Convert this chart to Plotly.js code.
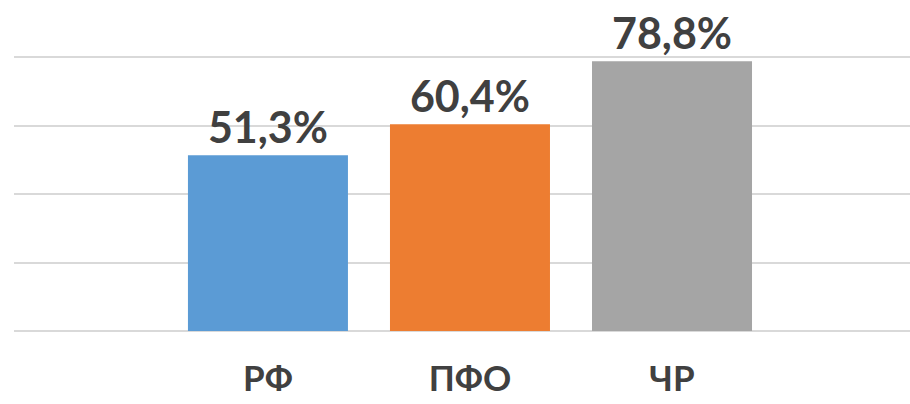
<!DOCTYPE html>
<html>
<head>
<meta charset="utf-8">
<script src="https://cdn.plot.ly/plotly-3.0.1.min.js"></script>
<style>html,body{margin:0;padding:0;background:#fff;}#chart{width:910px;height:404px;}</style>
</head>
<body>
<div id="chart"></div>
<script>
const categories = ["РФ", "ПФО", "ЧР"];
const values = [51.3, 60.4, 78.8];
const labels = ["51,3%", "60,4%", "78,8%"];
const colors = ["#5B9BD5", "#ED7D31", "#A5A5A5"];

const trace = {
  type: "bar",
  x: categories,
  y: values,
  text: labels,
  textposition: "outside",
  textfont: {family: "Lato, 'Open Sans', sans-serif", size: 43, color: "#404040", weight: "bold"},
  marker: {color: colors},
  width: 0.792,
  cliponaxis: false,
  hoverinfo: "none"
};

const layout = {
  width: 910, height: 404,
  margin: {l: 14, r: 0, t: 55, b: 73},
  paper_bgcolor: "#fff", plot_bgcolor: "#fff",
  showlegend: false,
  xaxis: {
    type: "category",
    range: [-1.257, 3.178],
    showgrid: false, zeroline: false, showline: false,
    ticks: "",
    ticklabelstandoff: 24,
    tickfont: {family: "Lato, 'Open Sans', sans-serif", size: 35, color: "#404040", weight: "bold"}
  },
  yaxis: {
    range: [0, 80.6],
    tickvals: [0, 20, 40, 60, 80],
    showticklabels: false,
    showgrid: true, gridcolor: "#D9D9D9", gridwidth: 2,
    zeroline: true, zerolinecolor: "#D9D9D9", zerolinewidth: 2,
    showline: false, ticks: ""
  }
};

Plotly.newPlot("chart", [trace], layout, {staticPlot: true, displayModeBar: false});
</script>
</body>
</html>
